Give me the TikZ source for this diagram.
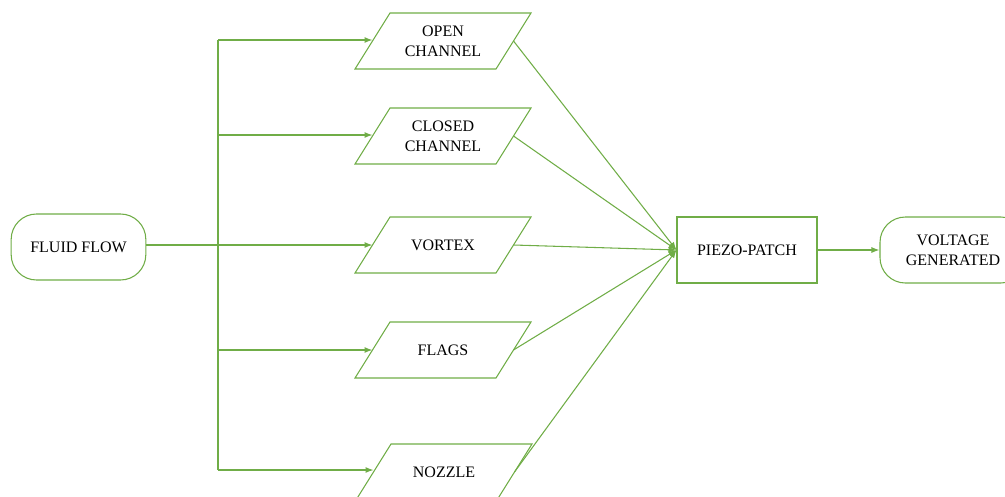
\documentclass[tikz,border=0pt]{standalone}
\usepackage{fontspec}
\setmainfont{Liberation Serif}
\usetikzlibrary{arrows.meta}
\definecolor{gr}{RGB}{112,173,71}
\newcommand\para[4]{%
  \node[ptext] (#1) at (#2,#3) {#4};
  \draw[gline] (#2-53,#3-28) -- (#2+88,#3-28) -- (#2+53,#3+28) -- (#2-88,#3+28) -- cycle;
  \coordinate (#1-in) at (#2-70.5,#3);
  \coordinate (#1-out) at (#2+70.5,#3);
}
\begin{document}
\begin{tikzpicture}[x=0.75pt,y=-0.75pt,
  gline/.style={draw=gr,line width=0.8pt},
  arr/.style={gline,-{Latex[length=6pt,width=4.5pt]}},
  ptext/.style={align=center,font=\fontsize{12}{15}\selectfont,inner sep=0pt},
  rbox/.style={gline,rounded corners=19pt,minimum width=101pt,minimum height=49.5pt,align=center,font=\fontsize{12}{15}\selectfont,fill=white},
  sbox/.style={gline,minimum width=105pt,minimum height=49.5pt,align=center,font=\fontsize{12}{15}\selectfont}]
\useasboundingbox (0,0) rectangle (1005,496);
\clip (0,0) rectangle (1005,496);
\node[rbox] (fluid) at (78.5,247) {FLUID FLOW};
\para{open}{443}{41}{OPEN\\CHANNEL}
\para{closed}{443}{136}{CLOSED\\CHANNEL}
\para{vortex}{443}{245}{VORTEX}
\para{flags}{443}{350}{FLAGS}
\para{nozzle}{444}{472}{NOZZLE}
\node[sbox] (piezo) at (747,250) {PIEZO-PATCH};
\node[rbox,minimum width=109.5pt] (volt) at (953,250) {VOLTAGE\\GENERATED};
\coordinate (t1) at (218,40);
\coordinate (t2) at (218,135);
\coordinate (t3) at (218,245);
\coordinate (t4) at (218,350);
\coordinate (t5) at (218,470);
\draw[gline] (t1) -- (t5);
\draw[gline] (fluid.east |- t3) -- (t3);
\draw[arr] (t1) -- (open-in |- t1);
\draw[arr] (t2) -- (closed-in |- t2);
\draw[arr] (t3) -- (vortex-in |- t3);
\draw[arr] (t4) -- (flags-in |- t4);
\draw[arr] (t5) -- (nozzle-in |- t5);
\foreach \n in {open,closed,vortex,flags,nozzle}
  \draw[arr] (\n-out) -- (piezo.west);
\draw[arr] (piezo.east) -- (volt.west);
\end{tikzpicture}
\end{document}
